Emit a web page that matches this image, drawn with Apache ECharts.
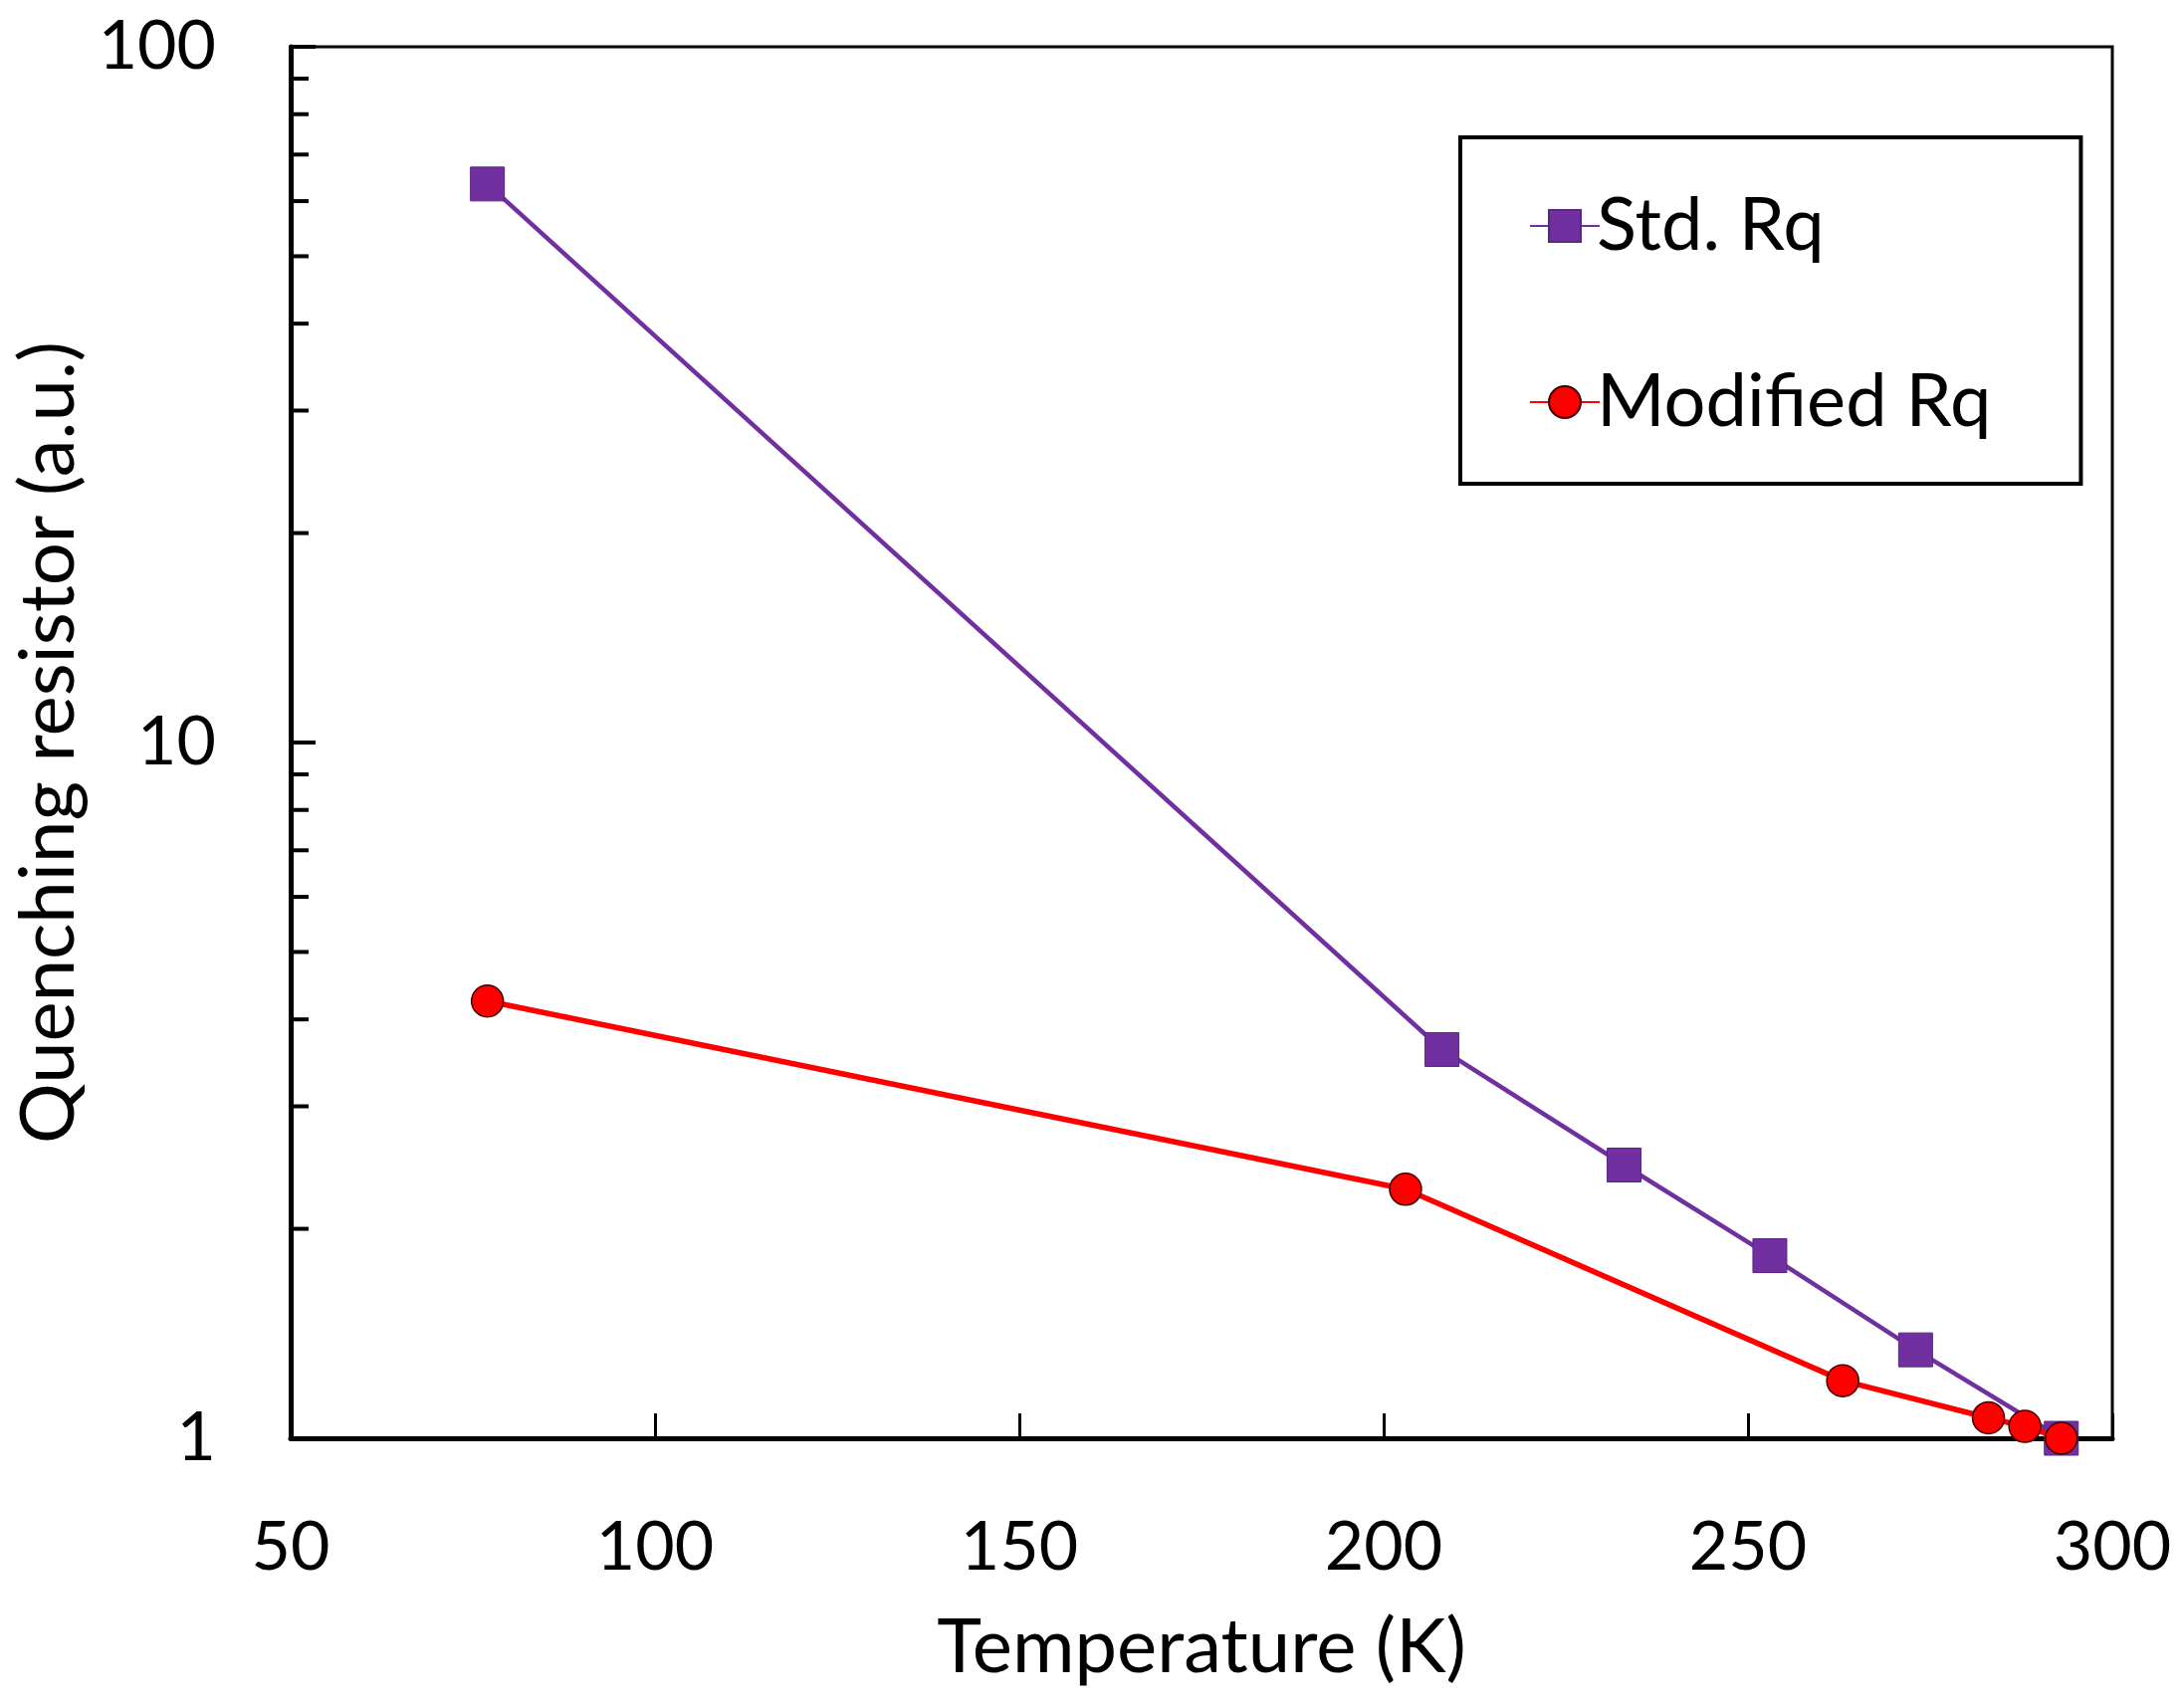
<!DOCTYPE html>
<html>
<head>
<meta charset="utf-8">
<script src="https://cdn.jsdelivr.net/npm/echarts@6/dist/echarts.min.js"></script>
<style>
html, body { margin: 0; padding: 0; background: #fff; }
#chart { width: 2193px; height: 1716px; }
</style>
</head>
<body>
<div id="chart"></div>
<script>
// temperatures (K) and normalised resistance
const stdTemp = [77, 208, 233, 253, 273, 293];
const stdRq = [63.5, 3.62, 2.47, 1.83, 1.34, 1.0];
const modTemp = [77, 203, 263, 283, 288, 293];
const modRq = [4.25, 2.28, 1.21, 1.07, 1.04, 1.0];

const xTicks = [50, 100, 150, 200, 250, 300];
const yMinorTicks = [2, 3, 4, 5, 6, 7, 8, 9, 20, 30, 40, 50, 60, 70, 80, 90];

const font = 'Lato, "Open Sans", sans-serif';

const pairs = (xs, ys) => xs.map((x, i) => [x, ys[i]]);

option = {
    backgroundColor: 'white',
    animation: false,
    grid: {
        left: 292,
        right: 71,
        top: 47,
        bottom: 271,
        show: true,
        borderColor: '#000',
        borderWidth: 3,
    },
    legend: {
        left: 1467,
        top: 138,
        orient: 'vertical',
        padding: [52, 90, 45, 69],
        itemGap: 103,
        itemWidth: 70,
        itemHeight: 40,
        borderColor: '#000',
        borderWidth: 4,
        textStyle: {fontFamily: font, fontSize: 74, lineHeight: 70, color: '#000', padding: [0, 0, 0, -8]},
        data: ['Std. Rq', 'Modified Rq'],
    },
    xAxis: {
        type: 'value',
        min: xTicks[0],
        max: xTicks[xTicks.length - 1],
        interval: 50,
        name: 'Temperature (K)',
        nameLocation: 'middle',
        nameGap: 172,
        nameTextStyle: {fontFamily: font, fontSize: 76, color: '#000'},
        axisLine: {show: true, lineStyle: {color: '#000', width: 5}},
        axisTick: {show: true, inside: true, length: 25, lineStyle: {color: '#000', width: 3}},
        axisLabel: {fontFamily: font, fontSize: 68, color: '#000', margin: 76},
        splitLine: {show: false},
    },
    yAxis: {
        type: 'log',
        logBase: 10,
        min: 1,
        max: 100,
        name: 'Quenching resistor (a.u.)',
        nameLocation: 'middle',
        nameRotate: 90,
        nameGap: 200,
        nameTextStyle: {fontFamily: font, fontSize: 76, color: '#000'},
        axisLine: {show: true, lineStyle: {color: '#000', width: 5}},
        axisTick: {show: true, inside: true, length: 25, lineStyle: {color: '#000', width: 4}},
        axisLabel: {fontFamily: font, fontSize: 68, color: '#000', margin: 75},
        splitLine: {show: false},
    },
    series: [
        {
            // minor log ticks on the left axis
            type: 'custom',
            silent: true,
            z: 5,
            data: yMinorTicks.map(v => [xTicks[0], v]),
            renderItem: function (params, api) {
                const p = api.coord([api.value(0), api.value(1)]);
                return {
                    type: 'line',
                    shape: {x1: p[0], y1: p[1], x2: p[0] + 18, y2: p[1]},
                    style: {stroke: '#000', lineWidth: 4},
                };
            },
        },
        {
            name: 'Std. Rq',
            type: 'line',
            z: 3,
            data: pairs(stdTemp, stdRq),
            symbol: 'rect',
            symbolSize: 34,
            lineStyle: {color: '#7030A0', width: 4.5},
            itemStyle: {color: '#7030A0', borderColor: '#5a2585', borderWidth: 1},
        },
        {
            name: 'Modified Rq',
            type: 'line',
            z: 4,
            data: pairs(modTemp, modRq),
            symbol: 'circle',
            symbolSize: 32,
            lineStyle: {color: '#FF0000', width: 5.5},
            itemStyle: {color: '#FF0000', borderColor: '#3a0000', borderWidth: 1.5},
        },
    ],
};

dom = document.getElementById('chart');
chart = echarts.init(dom);
chart.setOption(option);
</script>
</body>
</html>
